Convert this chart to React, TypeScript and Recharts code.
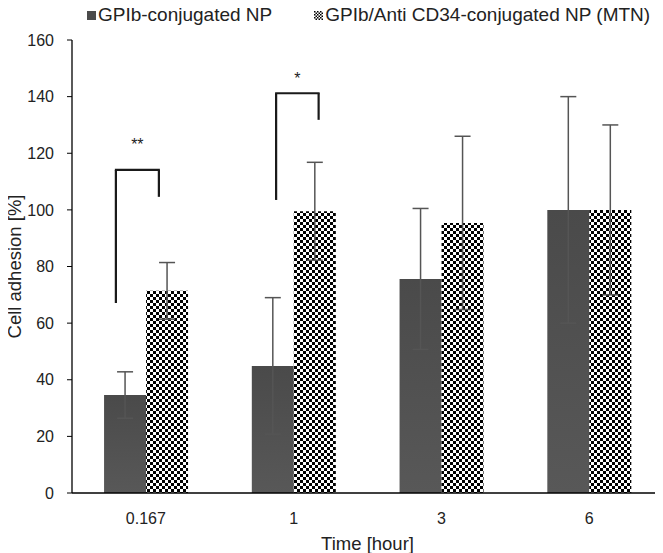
import React from "react";
import {
  Bar,
  BarChart,
  ErrorBar,
  Legend,
  ReferenceDot,
  ReferenceLine,
  XAxis,
  YAxis,
} from "recharts";

// values
const times = ["0.167", "1", "3", "6"];
const gpibMean = [34.6, 44.9, 75.6, 100];
const gpibSd = [8.2, 24.1, 24.9, 40];
const mtnMean = [71.4, 99.5, 95.4, 100];
const mtnSd = [10, 17.3, 30.6, 30];
const yTicks = [0, 20, 40, 60, 80, 100, 120, 140, 160];

// significance brackets
const bracketTime = ["0.167", "1"];
const bracketTop = [114.1, 141.2];
const bracketLeftEnd = [67.1, 103.5];
const bracketRightEnd = [104.6, 131.8];
const bracketMark = ["**", "*"];
const bracketMarkY = [124.4, 147.7];

// horizontal pixel offsets of the bracket legs from the category centre (layout only)
const legOffset = [
  [-30, 13],
  [-17.5, 25],
];

const data = times.map((t, i) => ({
  time: t,
  gpib: gpibMean[i],
  gpibErr: gpibSd[i],
  mtn: mtnMean[i],
  mtnErr: mtnSd[i],
}));

const FONT = "'Liberation Sans', Arial, sans-serif";
const TEXT = "#222";

function CheckerIcon() {
  return (
    <svg width={9} height={9} style={{ display: "block" }}>
      <rect width={9} height={9} fill="url(#checkerIcon)" />
    </svg>
  );
}

function LegendContent() {
  return (
    <div
      style={{
        height: 22,
        display: "flex",
        alignItems: "center",
        justifyContent: "flex-start",
        fontSize: 19,
        color: TEXT,
        fontFamily: FONT,
        paddingLeft: 87,
        whiteSpace: "nowrap",
      }}
    >
      <span style={{ display: "flex", alignItems: "center", marginRight: 42 }}>
        <span style={{ width: 9, height: 9, background: "#4b4b4b", marginRight: 2 }} />
        GPIb-conjugated NP
      </span>
      <span style={{ display: "flex", alignItems: "center" }}>
        <span style={{ marginRight: 2 }}>
          <CheckerIcon />
        </span>
        GPIb/Anti CD34-conjugated NP (MTN)
      </span>
    </div>
  );
}

const leg = (dx1: number, dx2: number) => (p: any) => (
  <line
    x1={p.x1 + dx1}
    y1={p.y1}
    x2={p.x2 + dx2}
    y2={p.y2}
    stroke="#1a1a1a"
    strokeWidth={2.2}
  />
);

export default function App() {
  return (
    <div style={{ margin: "-8px 0 0 -8px", fontFamily: FONT, background: "#fff" }}>
      <svg width={0} height={0} style={{ position: "absolute" }}>
        <defs>
          <pattern id="checkerIcon" width={3} height={3} patternUnits="userSpaceOnUse">
            <rect width={3} height={3} fill="#fff" />
            <rect width={1.5} height={1.5} fill="#000" />
            <rect x={1.5} y={1.5} width={1.5} height={1.5} fill="#000" />
          </pattern>
        </defs>
      </svg>
      <BarChart
        width={663}
        height={553}
        data={data}
        margin={{ top: 18, right: 0, bottom: 0, left: 0 }}
        barCategoryGap="21.7%"
        barGap={0}
      >
        <defs>
          <linearGradient id="gpibGrad" x1="0" y1="0" x2="0" y2="1">
            <stop offset="0%" stopColor="#4a4a4a" />
            <stop offset="100%" stopColor="#585858" />
          </linearGradient>
          <pattern id="checker" width={6} height={6} patternUnits="userSpaceOnUse">
            <rect width={6} height={6} fill="#fff" />
            <rect width={3} height={3} fill="#000" />
            <rect x={3} y={3} width={3} height={3} fill="#000" />
          </pattern>
        </defs>
        <Legend
          verticalAlign="top"
          align="left"
          wrapperStyle={{ top: 4 }}
          content={<LegendContent />}
        />
        <XAxis
          dataKey="time"
          height={60}
          axisLine={{ stroke: "#000", strokeWidth: 1.3 }}
          tickLine={false}
          tickSize={0}
          tickMargin={20}
          tick={{ fill: TEXT, fontSize: 16 }}
          label={{ value: "Time [hour]", position: "insideBottom", offset: 3, fill: TEXT, fontSize: 18.5 }}
        />
        <YAxis
          width={72}
          domain={[0, 160]}
          ticks={yTicks}
          interval={0}
          axisLine={{ stroke: "#000", strokeWidth: 1.3 }}
          tickLine={{ stroke: "#000" }}
          tickSize={5}
          tickMargin={13}
          tick={{ fill: TEXT, fontSize: 16 }}
          label={{ value: "Cell adhesion [%]", angle: -90, position: "center", dx: -22, fill: TEXT, fontSize: 18.5 }}
        />
        <Bar dataKey="gpib" fill="url(#gpibGrad)" isAnimationActive={false}>
          <ErrorBar dataKey="gpibErr" width={8} stroke="#555" strokeWidth={1.5} />
        </Bar>
        <Bar dataKey="mtn" fill="url(#checker)" isAnimationActive={false}>
          <ErrorBar dataKey="mtnErr" width={8} stroke="#555" strokeWidth={1.5} />
        </Bar>
        {bracketTime.map((t, i) => (
          <ReferenceLine
            key={`l${i}`}
            ifOverflow="visible"
            segment={[
              { x: t, y: bracketLeftEnd[i] },
              { x: t, y: bracketTop[i] },
            ]}
            shape={leg(legOffset[i][0], legOffset[i][0])}
          />
        ))}
        {bracketTime.map((t, i) => (
          <ReferenceLine
            key={`t${i}`}
            ifOverflow="visible"
            segment={[
              { x: t, y: bracketTop[i] },
              { x: t, y: bracketTop[i] },
            ]}
            shape={leg(legOffset[i][0] - 1, legOffset[i][1] + 1)}
          />
        ))}
        {bracketTime.map((t, i) => (
          <ReferenceLine
            key={`r${i}`}
            ifOverflow="visible"
            segment={[
              { x: t, y: bracketRightEnd[i] },
              { x: t, y: bracketTop[i] },
            ]}
            shape={leg(legOffset[i][1], legOffset[i][1])}
          />
        ))}
        {bracketTime.map((t, i) => (
          <ReferenceDot
            key={`m${i}`}
            x={t}
            y={bracketMarkY[i]}
            ifOverflow="visible"
            shape={(p: any) => (
              <text
                x={p.cx + (legOffset[i][0] + legOffset[i][1]) / 2}
                y={p.cy + 9}
                textAnchor="middle"
                fontSize={16}
                fill={TEXT}
              >
                {bracketMark[i]}
              </text>
            )}
          />
        ))}
      </BarChart>
    </div>
  );
}
